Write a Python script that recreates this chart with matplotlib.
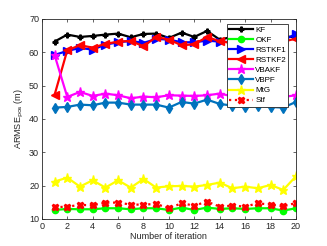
import numpy as np
import matplotlib
matplotlib.use('Agg')
import matplotlib.pyplot as plt

it = np.arange(1, 21)

kf = [63.2, 65.3, 64.6, 64.9, 65.3, 65.6, 64.5, 65.5, 65.6, 64.3,
      65.9, 64.6, 66.4, 63.8, 64.6, 65.0, 64.4, 65.1, 64.8, 64.5]
okf = [12.7, 13.0, 12.9, 12.9, 13.2, 13.2, 12.9, 13.2, 13.2, 12.7,
       13.4, 12.7, 13.4, 13.0, 13.2, 13.0, 13.2, 13.2, 12.5, 13.2]
rstkf1 = [59.2, 60.4, 61.3, 60.8, 62.3, 63.0, 63.4, 62.8, 64.0, 63.8,
          63.0, 63.0, 63.5, 63.2, 63.0, 63.3, 63.1, 63.4, 63.6, 65.5]
rstkf2 = [47.2, 60.6, 62.1, 61.4, 62.5, 63.2, 63.4, 61.8, 64.6, 63.8,
          62.1, 62.4, 64.6, 63.3, 62.8, 63.4, 62.9, 63.6, 63.2, 64.1]
vbakf = [59.2, 46.6, 48.1, 46.9, 47.6, 47.1, 46.2, 46.7, 46.5, 47.1,
         47.0, 46.9, 47.1, 47.6, 46.8, 47.0, 46.7, 46.9, 46.6, 47.1]
vbpf = [43.4, 43.6, 44.3, 44.1, 44.9, 44.9, 44.3, 44.3, 44.3, 43.4,
        45.1, 44.6, 45.8, 44.5, 44.0, 43.5, 44.0, 43.6, 43.4, 45.1]
mtg = [21.2, 22.4, 19.7, 21.6, 19.4, 21.6, 19.4, 22.0, 19.4, 19.8,
       19.9, 19.7, 20.2, 20.9, 19.2, 19.7, 19.2, 20.2, 18.7, 22.8]
stf = [13.5, 13.7, 14.2, 14.1, 14.9, 14.9, 14.3, 14.3, 14.5, 13.2,
       14.7, 14.0, 15.2, 13.7, 14.0, 13.7, 14.7, 14.3, 13.8, 14.8]

plt.rcParams['font.family'] = 'Liberation Sans'
plt.rcParams['font.size'] = 6

fig = plt.figure(figsize=(3.27, 2.46), dpi=100)
ax = fig.add_axes([0.128, 0.11, 0.777, 0.813])

lw = 1.6
ms = 4.5
ax.plot(it, kf, color='k', marker='P', ms=3.5, lw=lw, label='KF')
ax.plot(it, okf, color='#00ff00', marker='o', ms=ms, lw=lw, label='OKF')
ax.plot(it, rstkf1, color='#0000ff', marker='>', ms=ms + 1, lw=lw, label='RSTKF1')
ax.plot(it, rstkf2, color='#ff0000', marker='<', ms=ms + 1, lw=lw, label='RSTKF2')
ax.plot(it, vbakf, color='#ff00ff', marker='*', ms=ms + 2, lw=lw, label='VBAKF')
ax.plot(it, vbpf, color='#0072bd', marker='d', ms=ms + 0.5, lw=lw, label='VBPF')
ax.plot(it, mtg, color='#ffff00', marker='*', ms=ms + 2, lw=lw, label='MtG')
ax.plot(it, stf, color='#ff0000', marker='X', ms=ms, lw=lw, ls=':', label='Stf')

ax.set_xlim(0, 20)
ax.set_ylim(10, 70)
ax.set_xticks(range(0, 21, 2))
ax.set_yticks(range(10, 71, 10))
ax.tick_params(direction='in', top=True, right=True, length=2.5, width=0.5,
               colors='#262626', labelsize=6.5, pad=2)
for s in ax.spines.values():
    s.set_color('#262626')
    s.set_linewidth(0.6)
ax.set_xlabel('Number of iteration', fontsize=6.5, color='#262626', labelpad=1)
ax.set_ylabel('ARMSE$_{\\mathrm{pos}}$ (m)', fontsize=6.5, color='#262626', labelpad=2)

leg = ax.legend(loc='upper right', bbox_to_anchor=(0.97, 0.975), fontsize=5.8,
                fancybox=False, framealpha=1, edgecolor='#262626',
                handlelength=2.9, labelspacing=0.3, borderpad=0.3,
                handletextpad=0.3, borderaxespad=0)
leg.get_frame().set_linewidth(0.6)

fig.savefig('out.png', dpi=100)
